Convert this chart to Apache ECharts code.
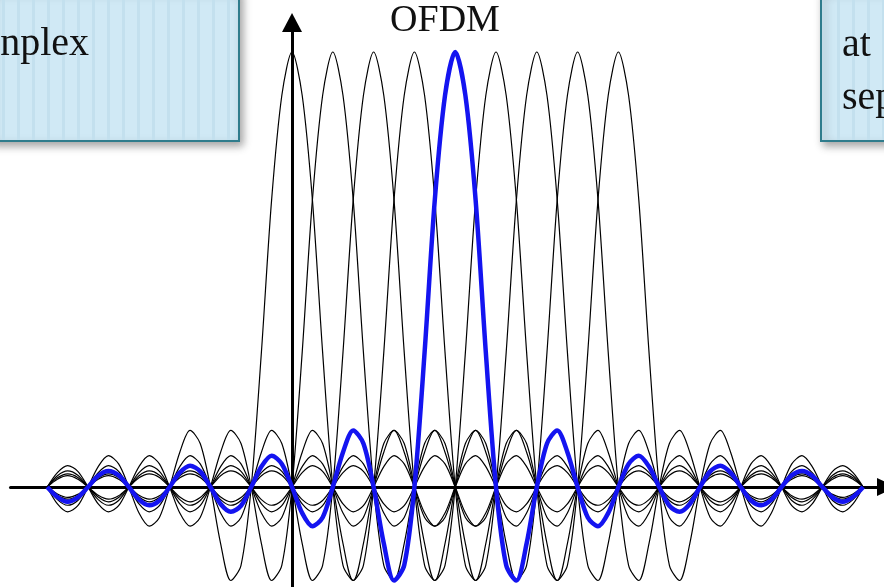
<!DOCTYPE html>
<html>
<head>
<meta charset="utf-8">
<script src="https://cdn.jsdelivr.net/npm/echarts@6/dist/echarts.min.js"></script>
<style>
html,body{margin:0;padding:0;background:#fff;}
#chart{width:884px;height:587px;}
</style>
</head>
<body>
<div id="chart"></div>
<script>
// Subcarrier centre frequencies (in units of subcarrier spacing)
const subcarriers = [0, 1, 2, 3, 4, 5, 6, 7, 8];
const highlighted = 4;
// Frequency range over which the spectra are drawn
const domain = [-6, 14];
// Pulse shape: value at offsets 0, 0.25, 0.5, ... 14 (symmetric)
const pulseStep = 0.25;
const pulseHalf = [
  1.00, 0.90, 0.66, 0.31,
  0, -0.18, -0.215, -0.13,
  0, 0.10, 0.13, 0.08,
  0, -0.07, -0.09, -0.06,
  0, 0.053, 0.072, 0.047,
  0, -0.043, -0.057, -0.039,
  0, 0.036, 0.049, 0.033,
  0, -0.031, -0.042, -0.029,
  0, 0.027, 0.037, 0.026,
  0, -0.024, -0.034, -0.023,
  0, 0.022, 0.030, 0.021,
  0, -0.020, -0.028, -0.019,
  0, 0.018, 0.026, 0.018,
  0, -0.017, -0.024, -0.016,
  0
];
const titleText = 'OFDM';
const leftBoxText = 'nplex';
const rightBoxLines = ['at', 'sep'];

function buildCurve(center) {
  const pts = [];
  const n = pulseHalf.length - 1;
  for (let i = -n; i <= n; i++) {
    const x = center + i * pulseStep;
    if (x < domain[0] - 1e-9 || x > domain[1] + 1e-9) continue;
    pts.push([x, pulseHalf[Math.abs(i)]]);
  }
  return pts;
}

const series = [];
subcarriers.forEach(function (c, idx) {
  if (idx === highlighted) return;
  series.push({
    type: 'line', data: buildCurve(c), smooth: 0.3, showSymbol: false, silent: true,
    lineStyle: {color: '#000', width: 1.2}, z: 2
  });
});
series.push({
  type: 'line', data: buildCurve(subcarriers[highlighted]), smooth: 0.3, showSymbol: false, silent: true,
  lineStyle: {color: '#1414f0', width: 4.5}, z: 5
});

function stripes(x0, x1, y0, y1, start) {
  const out = [];
  for (let x = start; x < x1; x += 15) {
    if (x < x0) continue;
    out.push({type: 'rect', shape: {x: x, y: y0, width: 3, height: y1 - y0}, style: {fill: '#c3e0ee'}, z: 101});
  }
  return out;
}

const serif = '"Liberation Serif", serif';
const graphic = [
  {type: 'rect', shape: {x: -10, y: -10, width: 249, height: 151},
   style: {fill: '#d0e9f5', stroke: '#2f7c8c', lineWidth: 2, shadowBlur: 8, shadowOffsetX: 3, shadowOffsetY: 4, shadowColor: 'rgba(0,0,0,0.35)'}, z: 100},
  ...stripes(-10, 238, -10, 140, 2),
  {type: 'text', x: 89, y: 44, style: {text: leftBoxText, fill: '#111', font: '40px ' + serif, textAlign: 'right', textVerticalAlign: 'middle'}, z: 102},
  {type: 'rect', shape: {x: 821, y: -10, width: 90, height: 151},
   style: {fill: '#d0e9f5', stroke: '#2f7c8c', lineWidth: 2, shadowBlur: 8, shadowOffsetX: 3, shadowOffsetY: 4, shadowColor: 'rgba(0,0,0,0.35)'}, z: 100},
  ...stripes(822, 900, -10, 140, 837),
  {type: 'text', x: 842, y: 45, style: {text: rightBoxLines[0], fill: '#111', font: '40px ' + serif, textAlign: 'left', textVerticalAlign: 'middle'}, z: 102},
  {type: 'text', x: 842, y: 98, style: {text: rightBoxLines[1], fill: '#111', font: '40px ' + serif, textAlign: 'left', textVerticalAlign: 'middle'}, z: 102},
  {type: 'text', x: 445, y: 21, style: {text: titleText, fill: '#111', font: '38px ' + serif, textAlign: 'center', textVerticalAlign: 'middle'}, z: 102}
];

const chart = echarts.init(document.getElementById('chart'), null, {renderer: 'canvas'});
chart.setOption({
  animation: false,
  backgroundColor: '#fff',
  grid: {left: 10.5, top: 22.5, right: 0, bottom: 0, containLabel: false},
  xAxis: {
    type: 'value', min: -6.9, max: 14.51,
    axisLine: {onZero: true, lineStyle: {color: '#000', width: 3}, symbol: ['none', 'triangle'], symbolSize: [18, 20], symbolOffset: [0, 3]},
    axisTick: {show: false}, axisLabel: {show: false}, splitLine: {show: false}
  },
  yAxis: {
    type: 'value', min: -0.2299, max: 1.0678,
    axisLine: {onZero: true, lineStyle: {color: '#000', width: 3}, symbol: ['none', 'triangle'], symbolSize: [20, 19]},
    axisTick: {show: false}, axisLabel: {show: false}, splitLine: {show: false}
  },
  series: series,
  graphic: graphic
});
</script>
</body>
</html>
